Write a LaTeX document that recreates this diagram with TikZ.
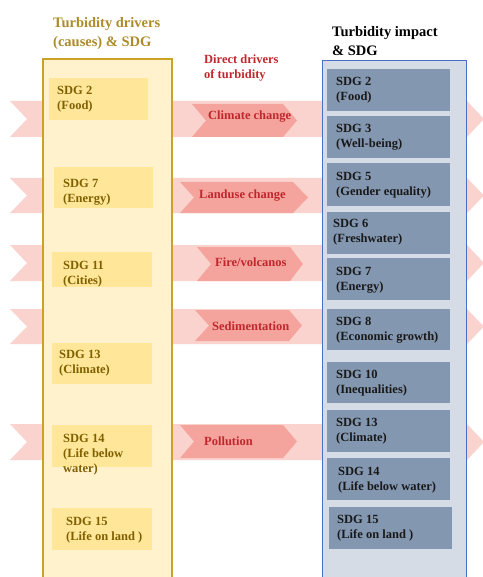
\documentclass[tikz,border=0pt]{standalone}
\usepackage{fontspec}
\setmainfont{Liberation Serif}
\definecolor{bandpink}{HTML}{FAD3CF}
\definecolor{chevpink}{HTML}{F4A49C}
\definecolor{chevtext}{HTML}{C0272D}
\definecolor{colyellow}{HTML}{FFF2CC}
\definecolor{colgold}{HTML}{C9A227}
\definecolor{boxyellow}{HTML}{FFE699}
\definecolor{ytext}{HTML}{806000}
\definecolor{ytitle}{HTML}{AD8A2A}
\definecolor{colblue}{HTML}{D6DCE5}
\definecolor{colbluedraw}{HTML}{4472C4}
\definecolor{boxblue}{HTML}{8497B0}
\begin{document}
\begin{tikzpicture}[x=1pt,y=-1pt,
  lbl/.style={anchor=north west,inner sep=0pt,align=left,font=\bfseries\fontsize{12.5}{15}\selectfont},
  ylbl/.style={lbl,text=ytext},
  blbl/.style={lbl,text=black!90},
  clbl/.style={anchor=west,inner sep=0pt,text=chevtext,font=\bfseries\fontsize{12.5}{15}\selectfont},
  ttl/.style={anchor=north west,inner sep=0pt,align=left,font=\bfseries\fontsize{14.5}{19}\selectfont}]
\useasboundingbox (0,0) rectangle (482,577);
% background bands
\foreach \t/\b in {101/137,178/213,245/281,309/344,424/460}{
  \pgfmathsetmacro\c{(\t+\b)/2}
  \fill[bandpink] (10,\t) -- (467,\t) -- (484,\c) -- (467,\b) -- (10,\b) -- (27,\c) -- cycle;
}
% columns
\draw[draw=colgold,fill=colyellow,line width=1.2pt] (43,59) rectangle (172,590);
\draw[draw=colbluedraw,fill=colblue,line width=1pt] (322,61) rectangle (466,590);
% yellow boxes
\foreach \t/\b/\l/\r in {78/120/49/148,167/208/54/153,252/287/52/152,343/384/52/152,425/467/52/152,508/550/52/152}{
  \fill[boxyellow] (\l,\t) rectangle (\r,\b);
}
% blue boxes
\foreach \t/\b/\l/\r in {69/111/327/450,116/158/327/450,163/206/327/450,212/254/327/450,258/300/327/450,309/350/327/450,362/403/327/450,410/452/327/450,458/500/327/450,507/549/329/452}{
  \fill[boxblue] (\l,\t) rectangle (\r,\b);
}
% chevrons
\foreach \a/\s/\p/\t/\b in {192/283/297/104/137,180/293/308/182/213,197/290/303/247/281,195/289/302/310/341,180/283/297/425/458}{
  \pgfmathsetmacro\c{(\t+\b)/2}
  \pgfmathsetmacro\n{\a+14}
  \fill[chevpink] (\a,\t) -- (\s,\t) -- (\p,\c) -- (\s,\b) -- (\a,\b) -- (\n,\c) -- cycle;
}
% titles
\node[ttl,text=ytitle] (tleft) at (53,17) {Turbidity drivers\\(causes) \& SDG};
\node[ttl,text=black] (tright) at (332,26) {Turbidity impact\\\& SDG};
\node[lbl,text=chevtext] (tmid) at (204,55) {Direct drivers\\of turbidity};
% yellow labels
\node[ylbl] (ly2) at (57,86) {SDG 2\\(Food)};
\node[ylbl] (ly7) at (63,179) {SDG 7\\(Energy)};
\node[ylbl] (ly11) at (63,261) {SDG 11\\(Cities)};
\node[ylbl] (ly13) at (59,350) {SDG 13\\(Climate)};
\node[ylbl] (ly14) at (63,434) {SDG 14\\(Life below\\water)};
\node[ylbl] (ly15) at (66,517) {SDG 15\\(Life on land )};
% blue labels
\node[blbl] (lb2) at (336,77) {SDG 2\\(Food)};
\node[blbl] (lb3) at (336,124) {SDG 3\\(Well-being)};
\node[blbl] (lb5) at (336,172) {SDG 5\\(Gender equality)};
\node[blbl] (lb6) at (333,219) {SDG 6\\(Freshwater)};
\node[blbl] (lb7) at (336,267) {SDG 7\\(Energy)};
\node[blbl] (lb8) at (336,317) {SDG 8\\(Economic growth)};
\node[blbl] (lb10) at (336,370) {SDG 10\\(Inequalities)};
\node[blbl] (lb13) at (336,418) {SDG 13\\(Climate)};
\node[blbl] (lb14) at (338,467) {SDG 14\\(Life below water)};
\node[blbl] (lb15) at (337,515) {SDG 15\\(Life on land )};
% chevron labels
\node[clbl] (c1) at (208,117) {Climate change};
\node[clbl] (c2) at (199,196) {Landuse change};
\node[clbl] (c3) at (215,262) {Fire/volcanos};
\node[clbl] (c4) at (212,326) {Sedimentation};
\node[clbl] (c5) at (204,441) {Pollution};
\end{tikzpicture}
\end{document}
